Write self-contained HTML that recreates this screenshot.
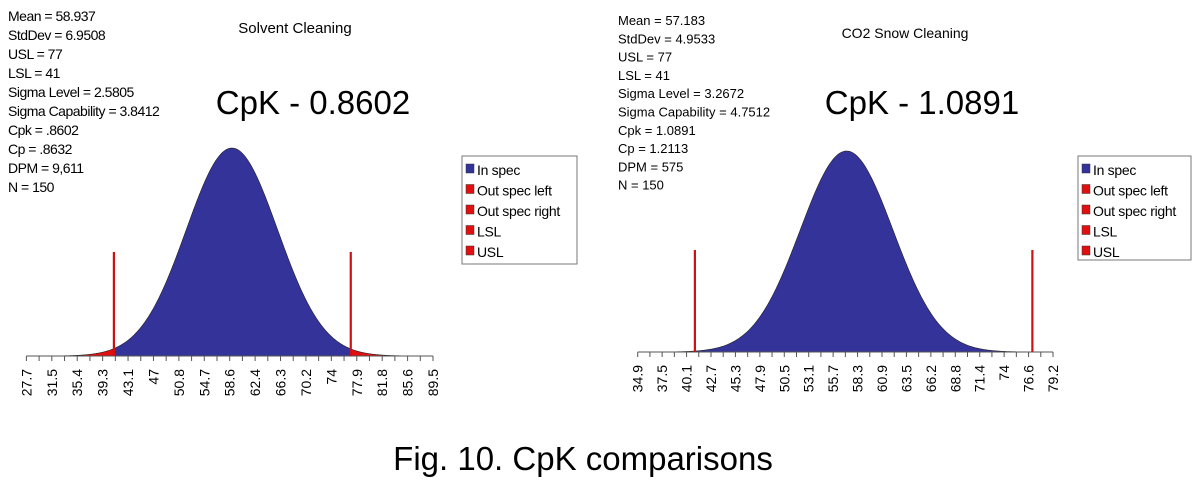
<!DOCTYPE html>
<html><head><meta charset="utf-8"><style>
body{margin:0;background:#fff;width:1200px;height:486px;overflow:hidden;font-family:"Liberation Sans",Arial,sans-serif}
svg{position:absolute;left:0;top:0}
</style></head><body>
<svg id="s" width="1200" height="486" xmlns="http://www.w3.org/2000/svg" font-family="Liberation Sans, Arial, sans-serif">
<g font-size="14" fill="#000" letter-spacing="-0.5">
<text x="8" y="21">Mean = 58.937</text>
<text x="8" y="40">StdDev = 6.9508</text>
<text x="8" y="59">USL = 77</text>
<text x="8" y="78">LSL = 41</text>
<text x="8" y="97">Sigma Level = 2.5805</text>
<text x="8" y="116">Sigma Capability = 3.8412</text>
<text x="8" y="135">Cpk = .8602</text>
<text x="8" y="154">Cp = .8632</text>
<text x="8" y="173">DPM = 9,611</text>
<text x="8" y="192">N = 150</text>
</g>
<text x="295" y="33" font-size="15" text-anchor="middle">Solvent Cleaning</text>
<text x="313" y="114" font-size="33" text-anchor="middle">CpK - 0.8602</text>
<g font-size="13" fill="#000">
<text x="618" y="25">Mean = 57.183</text>
<text x="618" y="43.3">StdDev = 4.9533</text>
<text x="618" y="61.6">USL = 77</text>
<text x="618" y="79.9">LSL = 41</text>
<text x="618" y="98.2">Sigma Level = 3.2672</text>
<text x="618" y="116.5">Sigma Capability = 4.7512</text>
<text x="618" y="134.8">Cpk = 1.0891</text>
<text x="618" y="153.1">Cp = 1.2113</text>
<text x="618" y="171.4">DPM = 575</text>
<text x="618" y="189.7">N = 150</text>
</g>
<text x="905" y="38" font-size="14" text-anchor="middle">CO2 Snow Cleaning</text>
<text x="922" y="114" font-size="33" text-anchor="middle">CpK - 1.0891</text>
<text x="583" y="470" font-size="33" text-anchor="middle">Fig. 10. CpK comparisons</text>
<g id="plots"></g>
</svg>
<script>
var NS="http://www.w3.org/2000/svg",G=document.getElementById("plots");
function el(t,a,txt){var e=document.createElementNS(NS,t);for(var k in a)e.setAttribute(k,a[k]);if(txt!==undefined)e.textContent=txt;G.appendChild(e);return e;}
function plot(o){
 var sc=(o.x1-o.x0)/(o.vmax-o.vmin);
 function X(v){return o.x0+(v-o.vmin)*sc;}
 function Y(v){var z=(v-o.mu)/o.sd;return o.base-(o.base-o.peak)*Math.exp(-z*z/2);}
 function area(a,b,fill){var d="M"+X(a)+","+o.base;for(var v=a;v<=b+1e-9;v+=(b-a)/200)d+=" L"+X(v).toFixed(2)+","+Y(v).toFixed(2);d+=" L"+X(b)+","+o.base+"Z";el("path",{d:d,fill:fill,stroke:"#222","stroke-width":"0.6"});}
 var lo=o.mu-4.2*o.sd,hi=o.mu+4.2*o.sd;
 area(Math.max(lo,o.vmin),o.lsl,"#e01010");
 area(o.usl,Math.min(hi,o.vmax),"#e01010");
 area(o.lsl,o.usl,"#333399");
 el("line",{x1:o.x0,x2:o.x1,y1:o.base,y2:o.base,stroke:"#555","stroke-width":1});
 var n=o.labels.length-1,step=(o.x1-o.x0)/n;
 for(var i=0;i<=2*n;i++){var x=o.x0+i*step/2;el("line",{x1:x,x2:x,y1:o.base,y2:o.base+5,stroke:"#555","stroke-width":1});}
 for(var i=0;i<=n;i++){var x=o.x0+i*step;el("text",{x:0,y:0,"font-size":14,"text-anchor":"end",transform:"translate("+(x+5)+","+(o.base+13)+") rotate(-90)"},o.labels[i]);}
 [o.lsl,o.usl].forEach(function(v){el("line",{x1:X(v),x2:X(v),y1:o.ltop,y2:o.base,stroke:"#d01010","stroke-width":2.2});});
 var L=o.leg;el("rect",{x:L[0],y:L[1],width:L[2],height:L[3],fill:"#fff",stroke:"#777","stroke-width":1});
 var items=[["In spec","#333399"],["Out spec left","#e01010"],["Out spec right","#e01010"],["LSL","#e01010"],["USL","#e01010"]];
 items.forEach(function(it,i){var y=L[1]+14+i*20.5;el("rect",{x:L[0]+4,y:y-6,width:8,height:9,fill:it[1],stroke:"#333","stroke-width":0.5});el("text",{x:L[0]+15,y:y+5,"font-size":14,"letter-spacing":"-0.3"},it[0]);});
}
plot({x0:26.4,x1:433,vmin:27.7,vmax:89.5,mu:58.937,sd:6.9508,base:356,peak:148,lsl:41,usl:77,ltop:252,
 labels:["27.7","31.5","35.4","39.3","43.1","47","50.8","54.7","58.6","62.4","66.3","70.2","74","77.9","81.8","85.6","89.5"],leg:[462,156,115,108]});
plot({x0:637.7,x1:1053,vmin:34.9,vmax:79.2,mu:57.183,sd:4.9533,base:352,peak:151,lsl:41,usl:77,ltop:250,
 labels:["34.9","37.5","40.1","42.7","45.3","47.9","50.5","53.1","55.7","58.3","60.9","63.5","66.2","68.8","71.4","74","76.6","79.2"],leg:[1078,156,113,104]});
</script>
</body></html>
